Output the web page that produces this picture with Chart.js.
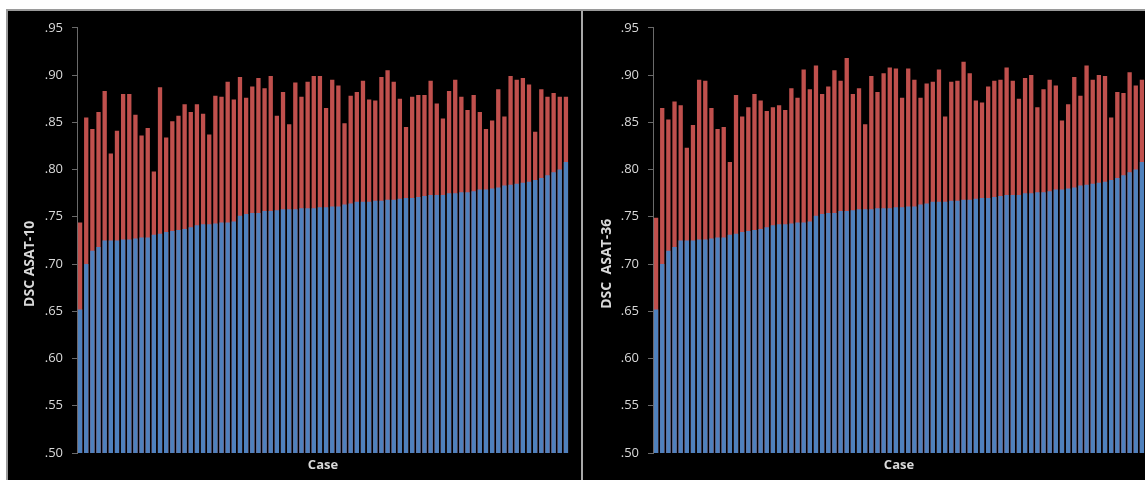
<!DOCTYPE html>
<html>
<head>
<meta charset="utf-8">
<script src="https://cdn.jsdelivr.net/npm/chart.js@4/dist/chart.umd.min.js"></script>
<style>
  html, body { margin: 0; padding: 0; background: #ffffff; }
  body { width: 1145px; height: 480px; overflow: hidden; position: relative; }
  #frame {
    position: absolute; left: 6px; top: 9px; width: 1160px; height: 480px;
    background: #000000; border-top: 2px solid #9a9a9a; border-left: 2px solid #9a9a9a;
  }
  #sep { position: absolute; left: 581px; top: 11px; width: 2px; height: 469px; background: #a8a8a8; }
  .panel { position: absolute; top: 11px; height: 469px; }
  #p10 { left: 8px; width: 573px; }
  #p36 { left: 583px; width: 600px; }
  canvas { display: block; }
</style>
</head>
<body>
<div id="frame"></div>
<div id="sep"></div>
<div class="panel" id="p10"><canvas id="c10" width="573" height="469"></canvas></div>
<div class="panel" id="p36"><canvas id="c36" width="600" height="469"></canvas></div>
<script>
// Cases 1..80, sorted by the baseline DSC
const cases = Array.from({ length: 80 }, (_, i) => String(i + 1));

// Baseline DSC per case (blue)
const baselineDSC = [
  0.652, 0.700, 0.714, 0.718, 0.725, 0.725, 0.725, 0.726, 0.726, 0.727,
  0.728, 0.728, 0.731, 0.732, 0.734, 0.735, 0.736, 0.737, 0.739, 0.741,
  0.742, 0.742, 0.743, 0.744, 0.744, 0.745, 0.751, 0.753, 0.754, 0.754,
  0.756, 0.756, 0.757, 0.758, 0.758, 0.758, 0.759, 0.759, 0.759, 0.760,
  0.760, 0.761, 0.761, 0.763, 0.764, 0.766, 0.766, 0.766, 0.767, 0.767,
  0.768, 0.768, 0.769, 0.770, 0.770, 0.771, 0.772, 0.773, 0.773, 0.773,
  0.775, 0.775, 0.776, 0.776, 0.777, 0.779, 0.779, 0.780, 0.781, 0.783,
  0.784, 0.785, 0.786, 0.787, 0.789, 0.791, 0.794, 0.797, 0.800, 0.808
];

// DSC with ASAT-10 (red)
const asat10DSC = [
  0.744, 0.855, 0.843, 0.861, 0.883, 0.817, 0.841, 0.880, 0.880, 0.858,
  0.836, 0.844, 0.798, 0.887, 0.834, 0.851, 0.857, 0.869, 0.861, 0.869,
  0.859, 0.837, 0.878, 0.877, 0.893, 0.874, 0.898, 0.876, 0.888, 0.897,
  0.886, 0.899, 0.857, 0.882, 0.848, 0.892, 0.877, 0.893, 0.899, 0.899,
  0.865, 0.895, 0.889, 0.849, 0.878, 0.882, 0.894, 0.874, 0.873, 0.898,
  0.905, 0.893, 0.875, 0.845, 0.877, 0.879, 0.879, 0.894, 0.870, 0.854,
  0.883, 0.895, 0.877, 0.863, 0.879, 0.861, 0.843, 0.852, 0.885, 0.856,
  0.899, 0.895, 0.897, 0.890, 0.840, 0.885, 0.877, 0.881, 0.877, 0.877
];

// DSC with ASAT-36 (red)
const asat36DSC = [
  0.749, 0.865, 0.853, 0.872, 0.868, 0.823, 0.847, 0.895, 0.894, 0.865,
  0.843, 0.845, 0.808, 0.879, 0.856, 0.866, 0.880, 0.873, 0.862, 0.866,
  0.868, 0.863, 0.886, 0.876, 0.906, 0.885, 0.910, 0.880, 0.888, 0.905,
  0.894, 0.918, 0.880, 0.886, 0.848, 0.899, 0.882, 0.902, 0.908, 0.907,
  0.876, 0.907, 0.895, 0.876, 0.891, 0.893, 0.906, 0.856, 0.893, 0.894,
  0.914, 0.902, 0.873, 0.871, 0.888, 0.894, 0.895, 0.908, 0.894, 0.875,
  0.897, 0.900, 0.866, 0.885, 0.895, 0.889, 0.852, 0.869, 0.898, 0.878,
  0.910, 0.895, 0.900, 0.899, 0.855, 0.882, 0.881, 0.903, 0.889, 0.895
];

// Value axis range and tick step
const yMin = 0.50;
const yMax = 0.95;
const yStep = 0.05;

const BLUE = '#4f81bd';
const RED = '#c0504d';
const AXIS = '#6a6a6a';
const TEXT = '#d9d9d9';
const FONT = "'Open Sans', 'DejaVu Sans', sans-serif";

// Rotated caption beside the value axis
const axisCaption = {
  id: 'axisCaption',
  afterDraw(chart, args, opts) {
    const { ctx, chartArea } = chart;
    ctx.save();
    ctx.translate(opts.x, chartArea.top + (chartArea.bottom - chartArea.top) * opts.pos);
    ctx.rotate(-Math.PI / 2);
    ctx.font = 'bold 14px ' + FONT;
    ctx.fillStyle = TEXT;
    ctx.textAlign = 'center';
    ctx.textBaseline = 'middle';
    ctx.fillText(opts.text, 0, 0);
    ctx.restore();
  }
};

function makeChart(id, topValues, caption, yAxisWidth, captionX, padRight) {
  return new Chart(document.getElementById(id), {
    type: 'bar',
    data: {
      labels: cases,
      datasets: [
        { label: 'Baseline', data: baselineDSC, backgroundColor: BLUE, borderWidth: 0,
          categoryPercentage: 1.0, barPercentage: 0.7 },
        { label: caption, data: topValues, backgroundColor: RED, borderWidth: 0,
          categoryPercentage: 1.0, barPercentage: 0.7 }
      ]
    },
    options: {
      responsive: false,
      animation: false,
      layout: { padding: { top: 15, left: 0, right: padRight, bottom: 0 } },
      plugins: {
        legend: { display: false },
        tooltip: { enabled: false },
        axisCaption: { text: caption, x: captionX, pos: 0.555 }
      },
      scales: {
        x: {
          stacked: true,
          grid: { display: false },
          border: { display: false },
          ticks: { display: false },
          title: {
            display: true, text: 'Case', color: TEXT,
            font: { family: FONT, size: 13, weight: 'bold' },
            padding: { top: 0, bottom: 7 }
          },
          afterFit(scale) { scale.height = 27; }
        },
        y: {
          stacked: false,
          min: yMin, max: yMax,
          ticks: {
            stepSize: yStep, color: TEXT, padding: 9,
            font: { family: FONT, size: 13 },
            callback: (v) => (Math.round(v * 100) / 100).toFixed(2).replace(/^0/, '')
          },
          grid: { display: true, drawOnChartArea: false, drawTicks: true, tickLength: 5, color: AXIS },
          border: { display: true, color: AXIS, width: 1 },
          afterFit(scale) { scale.width = yAxisWidth; }
        }
      }
    },
    plugins: [axisCaption]
  });
}

makeChart('c10', asat10DSC, 'DSC ASAT-10', 69, 22, 12);
makeChart('c36', asat36DSC, 'DSC  ASAT-36', 70, 24, 38);
</script>
</body>
</html>
